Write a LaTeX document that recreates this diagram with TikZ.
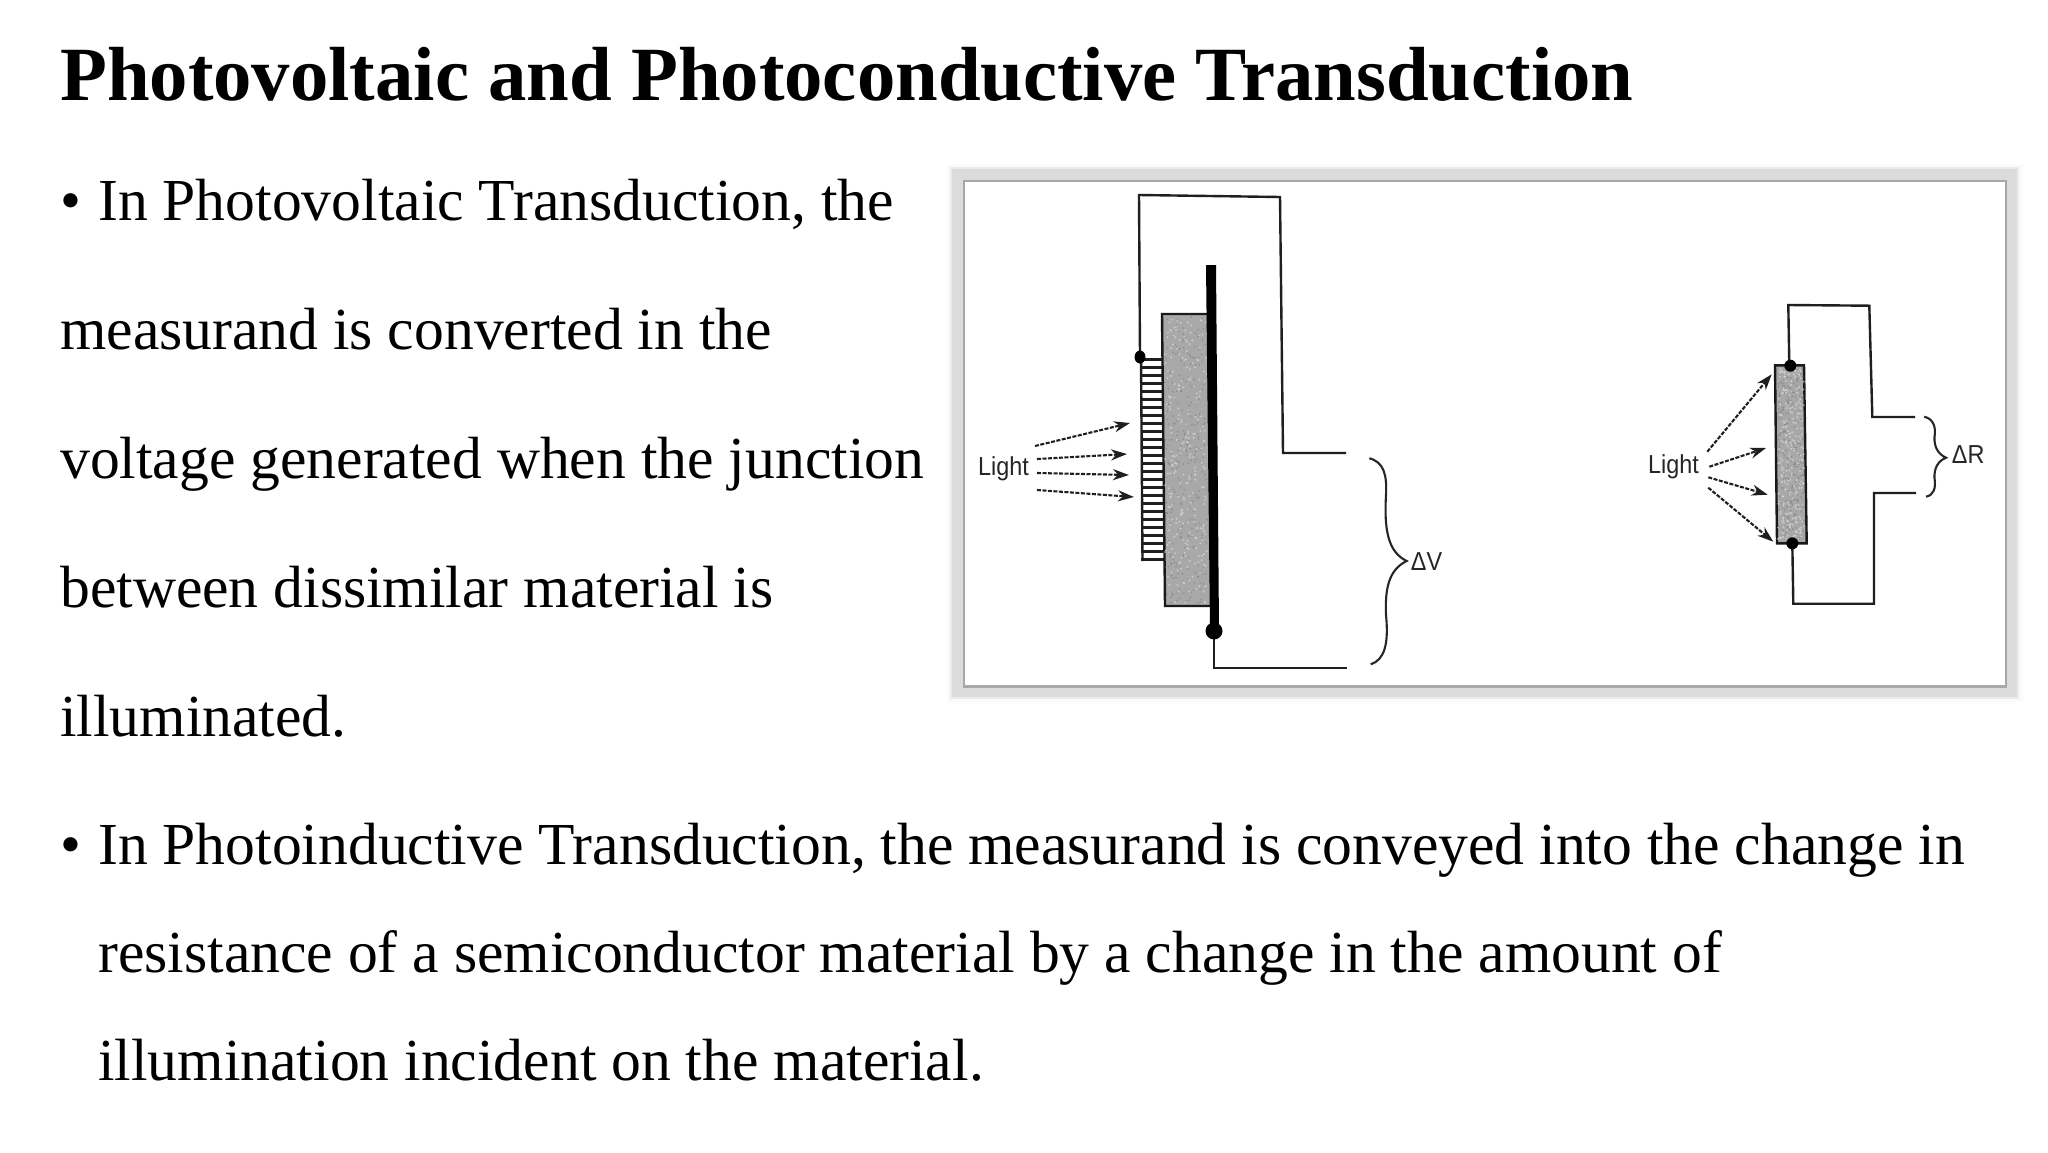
\documentclass[tikz,border=0pt]{standalone}
\usepackage{fontspec}
\setmainfont{Liberation Serif}
\newfontfamily\labelfont{Liberation Sans}
\usetikzlibrary{arrows.meta}
\tikzset{
	headline/.style={anchor=base west, inner sep=0, font=\fontsize{76.7}{80}\selectfont\bfseries},
	bodyline/.style={anchor=base west, inner sep=0, font=\fontsize{59.6}{64}\selectfont},
	difflabel/.style={anchor=base west, inner sep=0, xscale=0.9, transform shape, text=black!85, font=\labelfont\fontsize{26}{28}\selectfont},
	wire/.style={line width=2.4pt, color=black!88, line join=miter},
	element/.style={line width=2.4pt, color=black!90, fill=black!34},
	ray/.style={line width=2.1pt, color=black!88, dash pattern=on 4pt off 1.5pt, -{Stealth[length=16pt,width=11pt]}},
	bracket/.style={line width=2.1pt, color=black!85}
}
\newcommand{\speckles}[4]{% x, y, width, height of a grey element
	\foreach \i in {1, ..., 260} {
		\fill[black!15, opacity=0.7] ({#1 + rnd*#3}, {#2 + rnd*#4}) circle (1.1);
		\fill[black!55, opacity=0.5] ({#1 + rnd*#3}, {#2 + rnd*#4}) circle (0.9);
	}
}

\begin{document}
\begin{tikzpicture}[x=1pt, y=-1pt]
	%%%%% START %%%%%
	\useasboundingbox (0, 0) rectangle (2048, 1152);
	\fill[white] (0, 0) rectangle (2048, 1152);
	\pgfmathsetseed{7}

	\node[headline] (title) at (60, 100) {Photovoltaic and Photoconductive Transduction};

	\node[bodyline] (bulletA) at (60, 220) {•};
	\node[bodyline] (lineA) at (98, 220) {In Photovoltaic Transduction, the};
	\node[bodyline] (lineB) at (60, 349) {measurand is converted in the};
	\node[bodyline] (lineC) at (60, 478) {voltage generated when the junction};
	\node[bodyline] (lineD) at (60, 607) {between dissimilar material is};
	\node[bodyline] (lineE) at (60, 736) {illuminated.};

	\node[bodyline] (bulletB) at (60, 864) {•};
	\node[bodyline] (lineF) at (98, 864) {In Photoinductive Transduction, the measurand is conveyed into the change in};
	\node[bodyline] (lineG) at (98, 972) {resistance of a semiconductor material by a change in the amount of};
	\node[bodyline] (lineH) at (98, 1080) {illumination incident on the material.};

	% frame of the figure
	\fill[black!2] (948, 165) rectangle (2023, 702);
	\fill[black!8] (950, 167) rectangle (2019, 699);
	\fill[black!14] (952, 169) rectangle (2017, 697);
	\fill[black!34] (963, 180) rectangle (2007, 688);
	\fill[white] (965, 182) rectangle (2005, 685);

	% photovoltaic cell
	\draw[wire] (1140, 357) -- (1139, 195) -- (1280, 197) -- (1283, 453) -- (1346, 453);
	\draw[wire] (1214, 630) -- (1214, 668) -- (1347, 668);

	\foreach \row in {0, ..., 25} {
		\draw[wire] (1141, {359.5 + 8*\row}) -- (1164, {359.5 + 8*\row});
	}
	\draw[wire] (1141, 358) -- (1142.5, 561);
	\draw[element] (1162, 314) -- (1208, 314) -- (1212, 606) -- (1165, 606) -- cycle;
	\speckles{1165}{317}{42}{286}
	\fill[black] (1206, 265) -- (1216, 265) -- (1219, 630) -- (1210, 630) -- cycle;
	\fill[black] (1140, 357) ellipse (5.5 and 6.5);
	\fill[black] (1214, 631) circle (8.5);

	\draw[ray] (1035, 446) -- (1130, 423);
	\draw[ray] (1037, 459) -- (1127, 454);
	\draw[ray] (1037, 473) -- (1129, 475);
	\draw[ray] (1037, 490) -- (1134, 497);
	\node[difflabel] (lightA) at (978, 475) {Light};

	\draw[bracket] (1369.3, 458.3) .. controls (1384, 462) and (1387, 475) .. (1386, 495) .. controls (1384, 530) and (1388, 552) .. (1406.7, 561) .. controls (1388, 570) and (1385, 590) .. (1386, 615) .. controls (1389, 645) and (1384, 660) .. (1370.7, 664.3);
	\node[difflabel] (deltaV) at (1410.7, 570) {ΔV};

	% photoconductive cell
	\draw[wire] (1789.3, 365) -- (1788.3, 305) -- (1869.3, 305.7) -- (1872.3, 417) -- (1915, 417);
	\draw[wire] (1792.3, 543) -- (1793.3, 603.7) -- (1874, 603.7) -- (1874, 493) -- (1916, 493);
	\draw[element] (1775, 365.3) -- (1804, 365.3) -- (1806.7, 543.3) -- (1777, 543.3) -- cycle;
	\speckles{1778}{368}{26}{172}
	\fill[black] (1790.3, 365.7) circle (6);
	\fill[black] (1792.3, 543.3) circle (6);

	\draw[ray] (1707.3, 451.7) -- (1771.7, 374.3);
	\draw[ray] (1709.3, 466.7) -- (1766, 448);
	\draw[ray] (1708.3, 477.3) -- (1767.7, 494.7);
	\draw[ray] (1708.3, 487.7) -- (1773.3, 541.7);
	\node[difflabel] (lightB) at (1648, 473) {Light};

	\draw[bracket] (1924.3, 416.7) .. controls (1934, 419) and (1936, 428) .. (1934.5, 437) .. controls (1934, 447) and (1938, 454) .. (1946, 457.7) .. controls (1938, 461) and (1934, 468) .. (1934.5, 478) .. controls (1936, 488) and (1934, 495) .. (1926, 496.7);
	\node[difflabel] (deltaR) at (1951.7, 463) {ΔR};
	%%%%% END %%%%%
\end{tikzpicture}
\end{document}
